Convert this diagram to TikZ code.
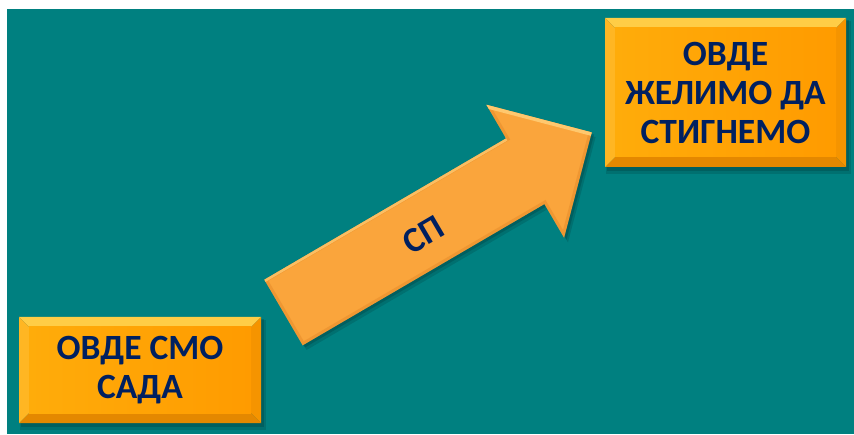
\documentclass[tikz,border=0pt]{standalone}
\usepackage{fontspec}
\setmainfont{Carlito}
\definecolor{teal0}{RGB}{0,128,128}
\definecolor{navy}{RGB}{0,32,96}
\definecolor{faceL}{RGB}{255,172,10}
\definecolor{faceR}{RGB}{255,155,0}
\definecolor{bevtop}{RGB}{255,205,70}
\definecolor{bevleft}{RGB}{255,182,35}
\definecolor{bevright}{RGB}{245,148,0}
\definecolor{bevbot}{RGB}{228,136,0}
\definecolor{arrowfill}{RGB}{250,165,60}
\definecolor{arrowdark}{RGB}{215,120,30}
\definecolor{arrowlight}{RGB}{255,200,110}
\tikzset{
  boxtext/.style={align=center,text=navy,inner sep=0pt,
    font=\fontsize{35.5}{39}\selectfont\bfseries},
  arrowtext/.style={text=navy,inner sep=0pt,
    font=\fontsize{35.5}{39}\selectfont\bfseries},
}
% #1 name, #2 x1, #3 y bottom, #4 x2, #5 y top, #6 text
\newcommand\bevbox[6]{%
  \fill[black,opacity=0.12] (#2+1,#3-7) rectangle (#4+5,#5-3);
  \fill[black,opacity=0.15] (#2+2,#3-4) rectangle (#4+3,#5-2);
  \fill[bevtop] (#2,#5) -- (#4,#5) -- (#4-10,#5-10) -- (#2+10,#5-10) -- cycle;
  \fill[bevbot] (#2,#3) -- (#4,#3) -- (#4-10,#3+10) -- (#2+10,#3+10) -- cycle;
  \fill[bevleft] (#2,#5) -- (#2+10,#5-10) -- (#2+10,#3+10) -- (#2,#3) -- cycle;
  \fill[bevright] (#4,#5) -- (#4-10,#5-10) -- (#4-10,#3+10) -- (#4,#3) -- cycle;
  \shade[left color=faceL,right color=faceR] (#2+10,#3+10) rectangle (#4-10,#5-10);
  \node[boxtext] (#1) at ({(#2+#4)/2},{(#3+#5)/2}) {#6};
}
\begin{document}
\begin{tikzpicture}[x=1pt,y=1pt]
\useasboundingbox (0,0) rectangle (854,434);
\fill[white] (0,0) rectangle (854,434);
\fill[teal0] (7,0) rectangle (854,425);

% arrow
\begin{scope}[shift={(283.5,121.5)},rotate=30.3]
  \def\arrowpath{(0,-38) -- (280,-38) -- (280,-77) -- (357,0) -- (280,77) -- (280,38) -- (0,38) -- cycle}
  \fill[black,opacity=0.12,shift={(1,-6)}] \arrowpath;
  \fill[black,opacity=0.15,shift={(1,-3)}] \arrowpath;
  \fill[arrowfill] \arrowpath;
  \begin{scope}
    \clip \arrowpath;
    \draw[arrowdark,opacity=0.3,line width=6pt,line join=miter] \arrowpath;
    \draw[arrowlight,opacity=0.8,line width=5pt] (0,38) -- (280,38);
    \draw[arrowlight,line width=7pt] (280,77) -- (357,0);
  \end{scope}
  \node[arrowtext,rotate=30.3] (sp) at (160,-3.5) {СП};
\end{scope}

\bevbox{goal}{605}{267}{846}{416}{ОВДЕ\\ЖЕЛИМО ДА\\СТИГНЕМО}
\bevbox{now}{19}{11}{261}{117}{ОВДЕ СМО\\САДА}
\end{tikzpicture}
\end{document}
